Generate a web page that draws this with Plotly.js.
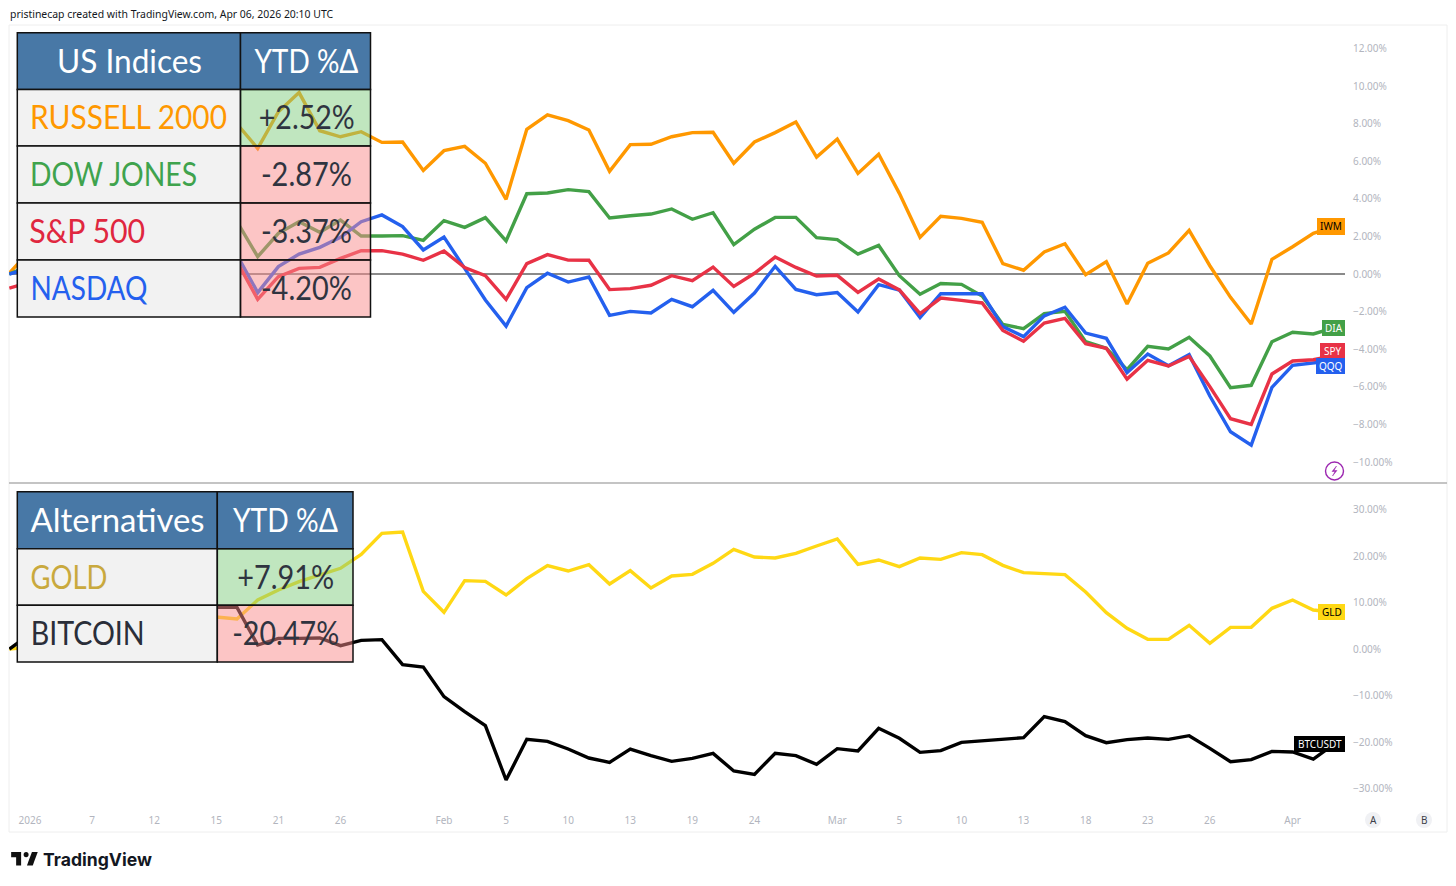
<!DOCTYPE html>
<html>
<head>
<meta charset="utf-8">
<script src="https://cdn.plot.ly/plotly-3.0.1.min.js"></script>
<style>html,body{margin:0;padding:0;background:#fff;overflow:hidden}</style>
</head>
<body>
<div id="chart" style="width:1456px;height:886px"></div>
<script>
const dates = ["Dec 31","Jan 2","Jan 5","Jan 6","Jan 7","Jan 8","Jan 9","Jan 12","Jan 13","Jan 14","Jan 15","Jan 16","Jan 20","Jan 21","Jan 22","Jan 23","Jan 26","Jan 27","Jan 28","Jan 29","Jan 30","Feb 2","Feb 3","Feb 4","Feb 5","Feb 6","Feb 9","Feb 10","Feb 11","Feb 12","Feb 13","Feb 17","Feb 18","Feb 19","Feb 20","Feb 23","Feb 24","Feb 25","Feb 26","Feb 27","Mar 2","Mar 3","Mar 4","Mar 5","Mar 6","Mar 9","Mar 10","Mar 11","Mar 12","Mar 13","Mar 16","Mar 17","Mar 18","Mar 19","Mar 20","Mar 23","Mar 24","Mar 25","Mar 26","Mar 27","Mar 30","Mar 31","Apr 1","Apr 2","Apr 6"];
const iwm = [0.05,1.24,2.5,3.6,3.2,4.8,5.5,5.6,6.8,7.4,7.9,7.98,6.68,8.63,9.65,7.62,7.30,7.57,7.00,7.02,5.51,6.56,6.79,5.89,3.97,7.70,8.46,8.16,7.66,5.46,6.88,6.90,7.30,7.52,7.54,5.89,7.02,7.52,8.09,6.22,7.18,5.35,6.37,4.29,1.95,3.07,2.96,2.75,0.55,0.20,1.17,1.61,-0.04,0.66,-1.60,0.57,1.12,2.32,0.44,-1.24,-2.66,0.78,1.45,2.16,2.52];
const dia = [0,0.45,1,1.5,1.1,1.6,2.0,2.0,2.3,2.6,2.8,2.78,0.92,2.16,2.78,2.22,2.87,2.02,2.02,2.04,1.79,2.84,2.48,3.0,1.76,4.27,4.31,4.49,4.38,2.98,3.10,3.19,3.46,2.91,3.26,1.56,2.38,3.01,3.01,1.93,1.83,1.06,1.52,-0.09,-1.08,-0.51,-0.55,-1.17,-2.68,-2.91,-2.11,-1.99,-3.60,-3.95,-5.09,-3.85,-3.99,-3.37,-4.36,-6.05,-5.92,-3.60,-3.10,-3.19,-2.87];
const spy = [-0.75,-0.43,0,0.6,0.3,0.9,1.2,1.0,1.3,1.1,0.9,0.66,-1.35,-0.14,0.30,0.35,0.83,1.24,1.24,1.06,0.73,1.22,0.34,-0.09,-1.35,0.55,1.03,0.74,0.73,-0.83,-0.78,-0.60,-0.09,-0.35,0.37,-0.66,0.04,0.90,0.35,-0.11,-0.07,-0.98,-0.27,-0.85,-2.11,-1.28,-1.40,-1.54,-3.00,-3.58,-2.61,-2.36,-3.71,-3.95,-5.59,-4.59,-4.89,-4.38,-5.99,-7.70,-8.00,-5.32,-4.63,-4.56,-4.35];
const qqq = [0,0.3,0.4,0.9,0.6,0.8,1.4,1.2,1.5,1.0,0.9,1.01,-0.99,0.39,1.06,1.42,1.95,2.78,3.14,2.52,1.28,1.97,0.30,-1.38,-2.77,-0.73,0.04,-0.43,-0.16,-2.20,-1.99,-2.07,-1.35,-1.74,-0.87,-2.04,-1.01,0.41,-0.82,-1.10,-0.99,-2.02,-0.57,-0.85,-2.32,-1.05,-1.05,-1.05,-2.80,-3.33,-2.23,-1.77,-3.14,-3.42,-5.25,-4.26,-4.88,-4.29,-6.49,-8.39,-9.10,-6.03,-4.86,-4.75,-4.6];
const gld = [0,0.4,1.5,2.5,2,3,4,5,5.5,6,6.88,6.45,10.54,12.69,14.48,15.91,17.35,20.36,24.87,25.16,12.40,7.89,14.70,14.55,11.61,15.13,17.92,16.77,18.14,13.98,16.85,13.12,15.70,16.06,18.42,21.43,19.78,19.57,20.57,22.15,23.66,18.21,19.14,17.71,19.57,19.28,20.72,20.29,17.99,16.42,16.27,15.99,12.26,7.81,4.44,2.08,2.08,5.09,1.22,4.66,4.66,8.75,10.54,8.39,7.91];
const btc = [0,3.2,5,7,6,5,5,7,8.5,9.5,8.96,8.96,0.86,2.29,2.29,2.37,0.72,1.86,2.01,-3.37,-3.87,-10.25,-13.48,-16.49,-28.17,-19.43,-19.86,-21.51,-23.44,-24.37,-21.51,-22.94,-24.16,-23.51,-22.44,-26.24,-26.95,-22.44,-22.94,-24.80,-21.43,-21.94,-17.06,-19.21,-22.22,-21.86,-20.07,-19.78,-19.50,-19.07,-14.55,-15.63,-18.64,-20.14,-19.50,-19.14,-19.43,-18.64,-21.36,-24.23,-23.80,-22.01,-22.15,-23.66,-20.47];

const xTickDates = ["Jan 2","Jan 7","Jan 12","Jan 15","Jan 21","Jan 26","Feb 2","Feb 5","Feb 10","Feb 13","Feb 19","Feb 24","Mar 2","Mar 5","Mar 10","Mar 13","Mar 18","Mar 23","Mar 26","Apr 1"];
const xTickLabels = ["2026","7","12","15","21","26","Feb","5","10","13","19","24","Mar","5","10","13","18","23","26","Apr"];
const usTicks = [12,10,8,6,4,2,0,-2,-4,-6,-8,-10];
const altTicks = [30,20,10,0,-10,-20,-30];

const usRows = ["RUSSELL 2000","DOW JONES","S&P 500","NASDAQ"];
const usChanges = ["+2.52%","-2.87%","-3.37%","-4.20%"];
const altRows = ["GOLD","BITCOIN"];
const altChanges = ["+7.91%","-20.47%"];

const C = {iwm:"#ff9800",dia:"#43a047",spy:"#e83246",qqq:"#2460ee",gld:"#ffd814",btc:"#000000"};
const tableFont = "Lato, sans-serif";
const uiFont = "'Noto Sans', sans-serif";

const L=9,R=1345,T=25,B=805;
const fx=x=>(x-L)/(R-L), fy=y=>(B-y)/(B-T);
const pct=v=>(v<0?"\u2212":"")+Math.abs(v).toFixed(2)+"%";

// horizontal extent [left,right] of each table text in the page
const textSpan = {"US Indices":[57,202],"Alternatives":[30,204],"RUSSELL 2000":[30,227],"DOW JONES":[30,197],"S&P 500":[29,145],"NASDAQ":[30,147],"GOLD":[30,107],"BITCOIN":[30,144],"+2.52%":[258,354],"-2.87%":[261,352],"-3.37%":[261,352],"-4.20%":[261,352],"+7.91%":[237,334],"-20.47%":[232,339]};
const ytdSpans = [[254,358],[233,338]];

const shapes=[], ann=[], fitted=[];
function box(x0,y0,x1,y1,fill,line,lw,layer){
  shapes.push({type:"rect",xref:"paper",yref:"paper",x0:fx(x0),x1:fx(x1),y0:fy(y1),y1:fy(y0),
    fillcolor:fill,line:{color:line||"rgba(0,0,0,0)",width:lw===undefined?1.5:lw},layer:layer||"above"});
}
function txt(x,y,t,size,color,anchor,extra){
  ann.push(Object.assign({xref:"paper",yref:"paper",x:fx(x),y:fy(y),text:t,showarrow:false,
    xanchor:anchor||"center",yanchor:"middle",font:{family:tableFont,size:size,color:color},borderpad:0},extra||{}));
}
function fit(span,y,t,color){
  fitted.push({i:ann.length,w:span[1]-span[0]});
  txt((span[0]+span[1])/2,y-1,t.replace("&","&amp;"),32,color);
}
const PINK="rgba(249,139,139,0.5)",GREEN="rgba(129,205,127,0.5)",GREY="#f2f2f2",HEAD="#4878a6",BL="#111111";

function table(x0,xs,x1,ys,head,ytd,names,colors,vals){
  box(x0,ys[0],xs,ys[1],HEAD,BL); box(xs,ys[0],x1,ys[1],HEAD,BL);
  fit(textSpan[head],(ys[0]+ys[1])/2,head,"#ffffff");
  fit(ytd,(ys[0]+ys[1])/2,"YTD %\u0394","#ffffff");
  names.forEach((n,i)=>{
    box(x0,ys[i+1],xs,ys[i+2],GREY,BL);
    box(xs,ys[i+1],x1,ys[i+2],vals[i][0]==="+"?GREEN:PINK,BL);
    fit(textSpan[n],(ys[i+1]+ys[i+2])/2,n,colors[i]);
    fit(textSpan[vals[i]],(ys[i+1]+ys[i+2])/2,vals[i],"#2f3440");
  });
}
box(9,25,1447,832,"rgba(0,0,0,0)","#eeeeee",1,"below");
shapes.push({type:"line",xref:"paper",yref:"paper",x0:fx(9),x1:fx(1447),y0:fy(483),y1:fy(483),line:{color:"#b0b0b0",width:1.5},layer:"above"});

table(17.3,240.5,370.5,[32.7,89.5,146,203,260,317],"US Indices",ytdSpans[0],usRows,[C.iwm,"#3fa34d","#e0273f",C.qqq],usChanges);
table(17.3,217.3,353,[491.7,548.7,605.3,662],"Alternatives",ytdSpans[1],altRows,["#c9a93e","#2a2e39"],altChanges);

function tag(x0,y0,x1,y1,t,bg,fg){ box(x0,y0,x1,y1,bg,"rgba(0,0,0,0)",0); txt((x0+x1)/2,(y0+y1)/2,t,10,fg,"center",{font:{family:uiFont,size:10,color:fg}}); }
tag(1317,218,1345,235,"IWM",C.iwm,"#000");
tag(1322,320,1345,336,"DIA",C.dia,"#fff");
tag(1320,343,1345,359,"SPY",C.spy,"#fff");
tag(1316,358,1345,374,"QQQ",C.qqq,"#fff");
tag(1318,604,1345,620,"GLD",C.gld,"#000");
tag(1294,736,1345,752,"BTCUSDT","#000","#fff");

shapes.push({type:"circle",xref:"paper",yref:"paper",x0:fx(1325.5),x1:fx(1343.5),y0:fy(480),y1:fy(462),line:{color:"#9c27b0",width:1.4},fillcolor:"#fff",layer:"above"});
const P=(x,y)=>fx(x)+","+fy(y);
shapes.push({type:"path",xref:"paper",yref:"paper",path:`M${P(1336.5,466)} L${P(1332,471.5)} L${P(1335,471.5)} L${P(1332.5,476)} L${P(1337,470.5)} L${P(1334,470.5)} Z`,fillcolor:"#9c27b0",line:{width:0.5,color:"#9c27b0"},layer:"above"});

[[1373,"A"],[1424,"B"]].forEach(([x,t])=>{
  shapes.push({type:"circle",xref:"paper",yref:"paper",x0:fx(x-8),x1:fx(x+8),y0:fy(828),y1:fy(812),fillcolor:"#f0f1f4",line:{width:0},layer:"above"});
  txt(x,820,t,10,"#3c3f48","center",{font:{family:uiFont,size:10,color:"#3c3f48"}});
});

const lx=X=>9.5+0.83*X, ly=Y=>846.5+0.9*Y;
const Q=(X,Y)=>P(lx(X),ly(Y));
shapes.push({type:"path",xref:"paper",yref:"paper",path:`M${Q(14,6)} L${Q(2,6)} L${Q(2,12)} L${Q(8,12)} L${Q(8,21)} L${Q(14,21)} Z`,fillcolor:"#111",line:{width:0},layer:"above"});
shapes.push({type:"path",xref:"paper",yref:"paper",path:`M${Q(28,21)} L${Q(21,21)} L${Q(27,6)} L${Q(34,6)} Z`,fillcolor:"#111",line:{width:0},layer:"above"});
shapes.push({type:"circle",xref:"paper",yref:"paper",x0:fx(lx(17)),x1:fx(lx(23)),y0:fy(ly(12)),y1:fy(ly(6)),fillcolor:"#111",line:{width:0},layer:"above"});
txt(41.5,859,"TradingView",17.6,"#131722","left",{font:{family:"Inter, sans-serif",size:17.6,color:"#131722",weight:700}});
txt(8.5,14,"pristinecap created with TradingView.com, Apr 06, 2026 20:10 UTC",10.45,"#131722","left",{font:{family:uiFont,size:10.45,color:"#131722"}});

const line=(y,c,ax)=>({type:"scatter",mode:"lines",x:dates,y:y,yaxis:ax,line:{color:c,width:3.4,shape:"linear"},hoverinfo:"skip"});
const traces=[line(iwm,C.iwm,"y"),line(dia,C.dia,"y"),line(qqq,C.qqq,"y"),line(spy,C.spy,"y"),line(gld,C.gld,"y2"),line(btc,C.btc,"y2")];

const axFont={family:uiFont,size:10,color:"#b2b5be"};
const layout={
  width:1456,height:886,autosize:false,showlegend:false,
  paper_bgcolor:"#fff",plot_bgcolor:"#fff",
  margin:{l:L,r:1456-R,t:T,b:886-B,pad:0},
  xaxis:{type:"category",categoryorder:"array",categoryarray:dates,range:[-0.015,64.53],anchor:"y2",
    tickmode:"array",tickvals:xTickDates,ticktext:xTickLabels,tickangle:0,showgrid:false,zeroline:false,showline:false,ticks:"",
    ticklabelstandoff:8,tickfont:axFont},
  yaxis:{domain:[fy(483),1],range:[(274-483)/18.8,(274-25)/18.8],side:"right",anchor:"x",showgrid:false,
    zeroline:true,zerolinecolor:"#8a8a8a",zerolinewidth:1.2,showline:false,ticks:"",
    tickmode:"array",tickvals:usTicks,ticktext:usTicks.map(pct),tickfont:axFont,ticklabelstandoff:7},
  yaxis2:{domain:[0,fy(484)],range:[(649-805)/4.65,(649-484)/4.65],side:"right",anchor:"x",showgrid:false,
    zeroline:false,showline:false,ticks:"",
    tickmode:"array",tickvals:altTicks,ticktext:altTicks.map(pct),tickfont:axFont,ticklabelstandoff:7},
  shapes:shapes,annotations:ann
};
Plotly.newPlot("chart",traces,layout,{displayModeBar:false,staticPlot:true}).then(gd=>{
  const nodes=gd.querySelectorAll(".annotation");
  fitted.forEach(f=>{
    const t=nodes[f.i]&&nodes[f.i].querySelector("text.annotation-text");
    if(t){t.setAttribute("textLength",f.w);t.setAttribute("lengthAdjust","spacingAndGlyphs");}
  });
});
</script>
</body>
</html>
